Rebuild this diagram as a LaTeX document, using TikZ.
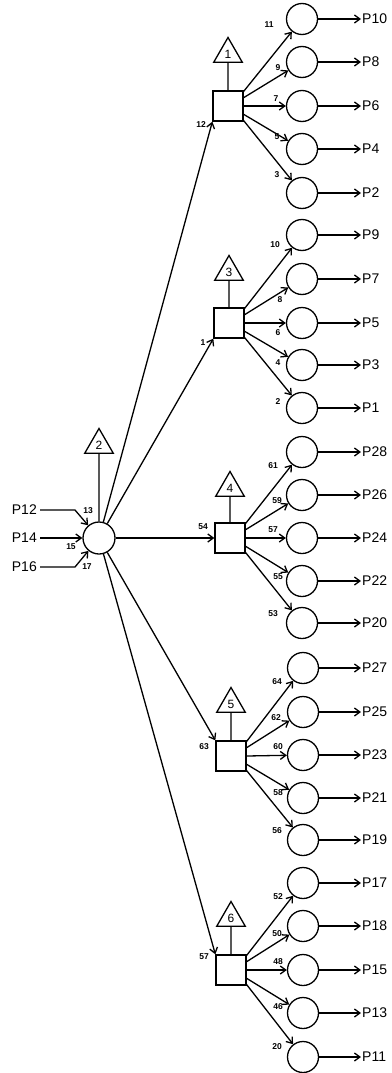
\documentclass[tikz,border=0pt]{standalone}
\usepackage{fontspec}
\setmainfont{Liberation Sans}
\usetikzlibrary{arrows.meta,shapes.geometric}
\begin{document}
\begin{tikzpicture}[x=1pt,y=-1pt,
  ln/.style={line width=1.3pt},
  arr/.style={ln,-{Straight Barb[length=5.5pt,width=8pt]}},
  circ/.style={circle,draw,line width=1.3pt,minimum size=31pt,inner sep=0pt},
  sq/.style={rectangle,draw,line width=1.3pt,minimum size=30pt,inner sep=0pt},
  tri/.style={regular polygon,regular polygon sides=3,draw,line width=1.3pt,minimum size=33pt,inner sep=0pt,font=\fontsize{12}{12}\selectfont},
  plab/.style={anchor=west,inner sep=1pt,font=\fontsize{14}{14}\selectfont},
  pin/.style={anchor=east,inner sep=3pt,font=\fontsize{14}{14}\selectfont},
  num/.style={inner sep=0pt,font=\bfseries\fontsize{8.5}{9}\selectfont},
]
\useasboundingbox (0,0) rectangle (391,1073);

% central node
\node[circ,minimum size=32pt] (c) at (99,538) {};
\node[tri] (t2) at (99,445) {2};
\draw[ln] (t2.south) -- (c.north);

\node[pin] (p12) at (40,510) {P12};
\node[pin] (p14) at (40,538) {P14};
\node[pin] (p16) at (40,567) {P16};
\coordinate (b12) at (75,510);
\coordinate (b16) at (75,567);
\draw[arr] (p12.east) -- (b12) -- (c);
\draw[arr] (p14.east) -- (c);
\draw[arr] (p16.east) -- (b16) -- (c);
\node[num] (n13) at (88,511) {13};
\node[num] (n15) at (71,547) {15};
\node[num] (n17) at (87,567) {17};

% squares
\node[sq] (s1) at (228,106) {};
\node[sq] (s2) at (229,323) {};
\node[sq] (s3) at (230,538) {};
\node[sq] (s4) at (231,756) {};
\node[sq] (s5) at (231,970) {};
\node[tri] (t1) at (228,54) {1};
\node[tri] (t3) at (229,272) {3};
\node[tri] (t4) at (230,488) {4};
\node[tri] (t5) at (231,704) {5};
\node[tri] (t6) at (231,918) {6};
\draw[ln] (t1.south) -- (s1.north);
\draw[ln] (t3.south) -- (s2.north);
\draw[ln] (t4.south) -- (s3.north);
\draw[ln] (t5.south) -- (s4.north);
\draw[ln] (t6.south) -- (s5.north);

\draw[arr] (c) -- (s1.south west);
\draw[arr] (c) -- (s2.south west);
\draw[arr] (c) -- (s3.west);
\draw[arr] (c) -- (s4.north west);
\draw[arr] (c) -- (s5.north west);
\node[num] (n12) at (201,125) {12};
\node[num] (n1) at (203,343) {1};
\node[num] (n54) at (203,527) {54};
\node[num] (n63) at (204,747) {63};
\node[num] (n57) at (204,957) {57};

% group 1
\foreach \i/\y/\p/\n/\nx/\ny/\a in {1/19/P10/11/269/25/43, 2/62/P8/9/278/68/28, 3/106/P6/7/276/99/0, 4/149/P4/5/277/137/332, 5/193/P2/3/277/175/317} {
  \node[circ] (ca\i) at (302,\y) {};
  \node[plab] (pa\i) at (361,\y) {\p};
  \draw[arr] (s1.\a) -- (ca\i);
  \draw[arr] (ca\i) -- (pa\i);
  \node[num] (na\i) at (\nx,\ny) {\n};
}
% group 2
\foreach \i/\y/\p/\n/\nx/\ny/\a in {1/235/P9/10/275/245/43, 2/279/P7/8/280/300/28, 3/323/P5/6/278/333/0, 4/365/P3/4/278/363/332, 5/408/P1/2/278/402/317} {
  \node[circ] (cb\i) at (302,\y) {};
  \node[plab] (pb\i) at (361,\y) {\p};
  \draw[arr] (s2.\a) -- (cb\i);
  \draw[arr] (cb\i) -- (pb\i);
  \node[num] (nb\i) at (\nx,\ny) {\n};
}
% group 3
\foreach \i/\y/\p/\n/\nx/\ny/\a in {1/452/P28/61/273/466/43, 2/495/P26/59/277/501/28, 3/538/P24/57/273/530/0, 4/581/P22/55/278/577/332, 5/623/P20/53/273/614/317} {
  \node[circ] (cc\i) at (302,\y) {};
  \node[plab] (pc\i) at (361,\y) {\p};
  \draw[arr] (s3.\a) -- (cc\i);
  \draw[arr] (cc\i) -- (pc\i);
  \node[num] (nc\i) at (\nx,\ny) {\n};
}
% group 4
\foreach \i/\y/\p/\n/\nx/\ny/\a in {1/668/P27/64/277/682/43, 2/712/P25/62/276/718/28, 3/755/P23/60/278/747/0, 4/798/P21/58/278/793/332, 5/840/P19/56/277/831/317} {
  \node[circ] (cd\i) at (303,\y) {};
  \node[plab] (pd\i) at (361,\y) {\p};
  \draw[arr] (s4.\a) -- (cd\i);
  \draw[arr] (cd\i) -- (pd\i);
  \node[num] (nd\i) at (\nx,\ny) {\n};
}
% group 5
\foreach \i/\y/\p/\n/\nx/\ny/\a in {1/883/P17/52/278/897/43, 2/926/P18/50/277/934/28, 3/970/P15/48/278/962/0, 4/1013/P13/46/278/1007/332, 5/1057/P11/20/277/1047/317} {
  \node[circ] (ce\i) at (303,\y) {};
  \node[plab] (pe\i) at (361,\y) {\p};
  \draw[arr] (s5.\a) -- (ce\i);
  \draw[arr] (ce\i) -- (pe\i);
  \node[num] (ne\i) at (\nx,\ny) {\n};
}
\end{tikzpicture}
\end{document}
